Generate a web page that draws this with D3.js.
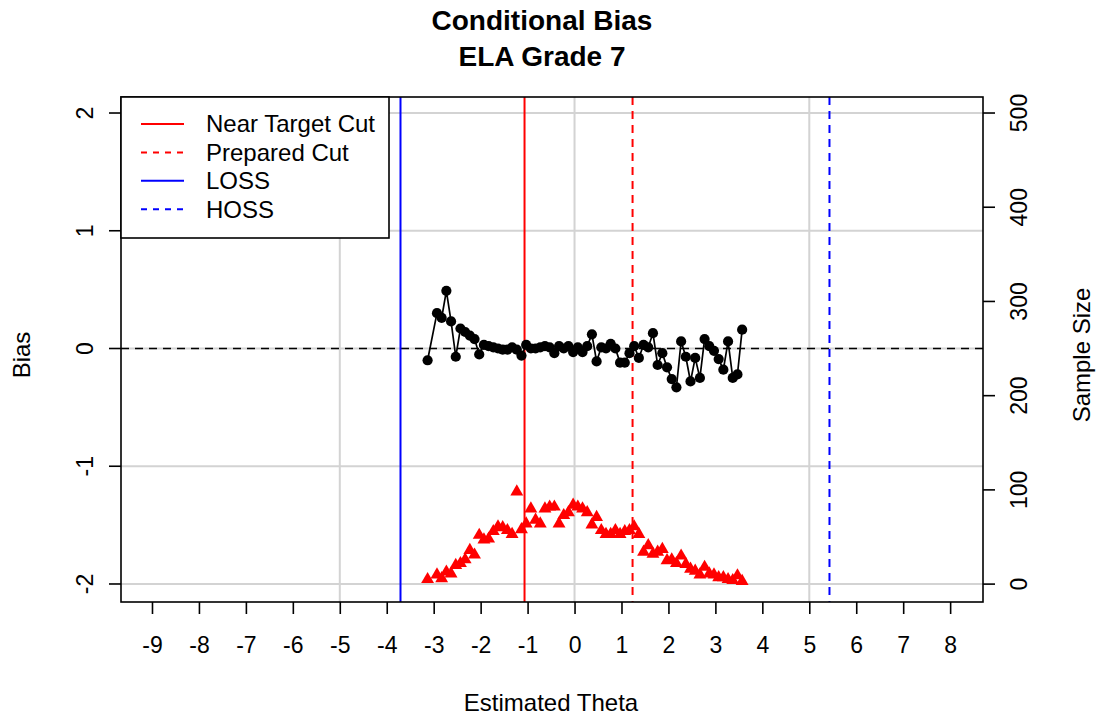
<!DOCTYPE html>
<html>
<head>
<meta charset="utf-8">
<script src="https://cdn.jsdelivr.net/npm/d3@7"></script>
<style>
  html, body { margin: 0; padding: 0; background: #fff; }
  svg { display: block; font-family: "Liberation Sans", Arial, sans-serif; }
</style>
</head>
<body>
<svg id="chart" width="1099" height="719"></svg>
<script>
// Estimated theta bins
const theta = [
  -3.13, -2.93, -2.83, -2.73, -2.63, -2.53, -2.43, -2.33, -2.23, -2.13,
  -2.03, -1.93, -1.83, -1.73, -1.63, -1.53, -1.43, -1.33, -1.23, -1.13,
  -1.03, -0.93, -0.83, -0.73, -0.63, -0.53, -0.43, -0.33, -0.23, -0.13,
  -0.03, 0.07, 0.17, 0.27, 0.37, 0.47, 0.57, 0.67, 0.77, 0.87,
  0.97, 1.07, 1.17, 1.27, 1.37, 1.47, 1.57, 1.67, 1.77, 1.87,
  1.97, 2.07, 2.17, 2.27, 2.37, 2.47, 2.57, 2.67, 2.77, 2.87,
  2.97, 3.07, 3.17, 3.27, 3.37, 3.47, 3.57
];
// Conditional bias per bin
const bias = [
  -0.10, 0.30, 0.26, 0.49, 0.23, -0.07, 0.17, 0.14, 0.11, 0.08,
  -0.05, 0.03, 0.02, 0.01, 0.00, -0.01, -0.01, 0.01, -0.01, -0.06,
  0.03, 0.00, 0.00, 0.01, 0.02, 0.01, -0.04, 0.02, 0.00, 0.02,
  -0.03, 0.01, -0.03, 0.02, 0.12, -0.11, 0.01, 0.00, 0.04, 0.00,
  -0.12, -0.12, -0.04, 0.02, -0.08, 0.03, 0.01, 0.13, -0.14, -0.04,
  -0.16, -0.26, -0.33, 0.06, -0.07, -0.28, -0.08, -0.25, 0.08, 0.02,
  -0.02, -0.09, -0.18, 0.06, -0.25, -0.22, 0.16
];
// Sample size per bin
const sampleSize = [
  5, 10, 6, 13, 11, 20, 22, 26, 36, 31,
  52, 47, 48, 56, 61, 60, 57, 53, 98, 58,
  64, 80, 68, 64, 80, 82, 82, 64, 73, 76,
  84, 82, 80, 76, 63, 71, 57, 53, 53, 57,
  53, 56, 57, 61, 53, 34, 41, 32, 34, 37,
  25, 26, 22, 30, 21, 16, 14, 10, 18, 11,
  10, 7, 7, 5, 4, 9, 3
];
// Reference lines
const refLines = [
  { label: "Near Target Cut", value: -1.065, color: "red",  dash: null },
  { label: "Prepared Cut",    value: 1.236,  color: "red",  dash: "8,6" },
  { label: "LOSS",            value: -3.707, color: "blue", dash: null },
  { label: "HOSS",            value: 5.43,   color: "blue", dash: "8,6" }
];
const xTicks = d3.range(-9, 9);
const yTicks = [-2, -1, 0, 1, 2];
const yRightTicks = [0, 100, 200, 300, 400, 500];
const xGrid = [-5, 0, 5];

const svg = d3.select("#chart");
const L = 121, R = 983, T = 97, B = 602;

const x = d3.scaleLinear().domain([-9.66, 8.70]).range([L, R]);
const yL = d3.scaleLinear().domain([-2.153, 2.136]).range([B, T]);
const yR = d3.scaleLinear().domain([-19, 517]).range([B, T]);

// Title
svg.append("text").attr("x", 542).attr("y", 30).attr("text-anchor", "middle")
  .attr("font-size", 28).attr("font-weight", "bold").text("Conditional Bias");
svg.append("text").attr("x", 542).attr("y", 66).attr("text-anchor", "middle")
  .attr("font-size", 28).attr("font-weight", "bold").text("ELA Grade 7");

// Grid
const grid = svg.append("g").attr("stroke", "#d3d3d3").attr("stroke-width", 2);
grid.selectAll("line.gx").data(xGrid).join("line")
  .attr("x1", d => x(d)).attr("x2", d => x(d)).attr("y1", T).attr("y2", B);
grid.selectAll("line.gy").data(yTicks).join("line")
  .attr("x1", L).attr("x2", R).attr("y1", d => yL(d)).attr("y2", d => yL(d));

// Zero-bias reference
svg.append("line").attr("x1", L).attr("x2", R).attr("y1", yL(0)).attr("y2", yL(0))
  .attr("stroke", "black").attr("stroke-width", 1.6).attr("stroke-dasharray", "8,6");

// Cut score and scale bound lines
svg.append("g").selectAll("line").data(refLines).join("line")
  .attr("x1", d => x(d.value)).attr("x2", d => x(d.value)).attr("y1", T).attr("y2", B)
  .attr("stroke", d => d.color).attr("stroke-width", 2)
  .attr("stroke-dasharray", d => d.dash);

// Sample size triangles
const tri = d3.symbol().type(d3.symbolTriangle).size(72);
svg.append("g").selectAll("path").data(sampleSize).join("path")
  .attr("d", tri)
  .attr("transform", (d, i) => `translate(${x(theta[i])},${yR(d)})`)
  .attr("fill", "red");

// Bias line and points
const pts = theta.map((t, i) => [t, bias[i]]);
svg.append("path").datum(pts)
  .attr("d", d3.line().x(d => x(d[0])).y(d => yL(d[1])))
  .attr("fill", "none").attr("stroke", "black").attr("stroke-width", 1.7);
svg.append("g").selectAll("circle").data(pts).join("circle")
  .attr("cx", d => x(d[0])).attr("cy", d => yL(d[1])).attr("r", 5.1).attr("fill", "black");

// Axes
const fs = 24, tfs = 23;
const gx = svg.append("g").attr("transform", `translate(0,${B})`)
  .call(d3.axisBottom(x).tickValues(xTicks).tickSize(12).tickPadding(23).tickFormat(d3.format("d")));
const gl = svg.append("g").attr("transform", `translate(${L},0)`)
  .call(d3.axisLeft(yL).tickValues(yTicks).tickSize(12).tickFormat(d3.format("d")));
const gr = svg.append("g").attr("transform", `translate(${R},0)`)
  .call(d3.axisRight(yR).tickValues(yRightTicks).tickSize(12).tickFormat(d3.format("d")));
[gx, gl, gr].forEach(g => {
  g.select(".domain").remove();
  g.selectAll(".tick line").attr("stroke", "black").attr("stroke-width", 1.6);
  g.selectAll(".tick text").attr("font-size", tfs).attr("fill", "black")
    .attr("font-family", "Liberation Sans, Arial, sans-serif");
});
gx.selectAll(".tick text").text(d => d < 0 ? "-" + Math.abs(d) : d);
gl.selectAll(".tick text").text(d => d < 0 ? "-" + Math.abs(d) : d);

// Vertical axes carry rotated labels, so ticks are placed in absolute coordinates
gl.selectAll(".tick").attr("transform", "translate(0,0)");
gl.selectAll(".tick line").attr("y1", d => yL(d)).attr("y2", d => yL(d));
gl.selectAll(".tick text")
  .attr("x", null).attr("y", d => yL(d)).attr("dy", "0.35em").attr("text-anchor", "middle")
  .attr("transform", d => `translate(-36,0) rotate(-90,0,${yL(d)})`);
gr.selectAll(".tick").attr("transform", "translate(0,0)");
gr.selectAll(".tick line").attr("y1", d => yR(d)).attr("y2", d => yR(d));
gr.selectAll(".tick text")
  .attr("x", null).attr("y", d => yR(d)).attr("dy", "0.35em").attr("text-anchor", "middle")
  .attr("transform", d => `translate(36,0) rotate(-90,0,${yR(d)})`);

// Plot frame
svg.append("rect").attr("x", L).attr("y", T).attr("width", R - L).attr("height", B - T)
  .attr("fill", "none").attr("stroke", "black").attr("stroke-width", 1.6);

// Axis titles
svg.append("text").attr("x", 551).attr("y", 711).attr("text-anchor", "middle")
  .attr("font-size", fs).text("Estimated Theta");
svg.append("text").attr("transform", "translate(30,355) rotate(-90)").attr("text-anchor", "middle")
  .attr("font-size", fs).text("Bias");
svg.append("text").attr("transform", "translate(1090,355) rotate(-90)").attr("text-anchor", "middle")
  .attr("font-size", fs).text("Sample Size");

// Legend
const lg = svg.append("g");
lg.append("rect").attr("x", L).attr("y", T).attr("width", 268).attr("height", 141)
  .attr("fill", "white").attr("stroke", "black").attr("stroke-width", 1.6);
const rows = lg.selectAll("g.row").data(refLines).join("g")
  .attr("transform", (d, i) => `translate(0,${124 + i * 28.4})`);
rows.append("line").attr("x1", 141).attr("x2", 184).attr("y1", 0).attr("y2", 0)
  .attr("stroke", d => d.color).attr("stroke-width", 2).attr("stroke-dasharray", d => d.dash ? "6,6" : null);
rows.append("text").attr("x", 206).attr("y", 0).attr("dy", "0.35em")
  .attr("font-size", fs).text(d => d.label);
</script>
</body>
</html>
